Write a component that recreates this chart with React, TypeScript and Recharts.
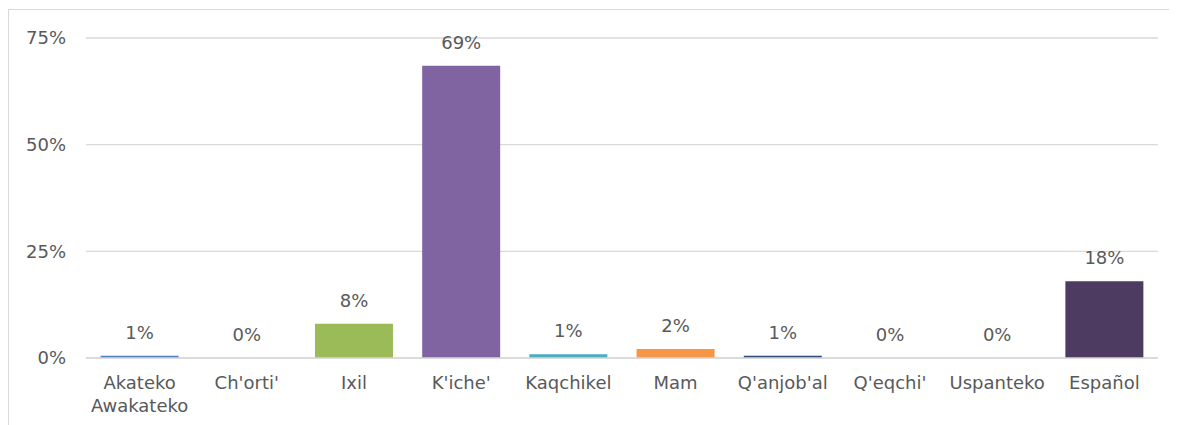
import React from 'react';
import { ComposedChart, Bar, Line, XAxis, YAxis, CartesianGrid, Cell, LabelList } from 'recharts';

const categories = ['Akateko Awakateko', "Ch'orti'", 'Ixil', "K'iche'", 'Kaqchikel', 'Mam', "Q'anjob'al", "Q'eqchi'", 'Uspanteko', 'Español'];
const values = [0.005, 0, 0.08, 0.685, 0.009, 0.021, 0.005, 0, 0, 0.18];
const labels = ['1%', '0%', '8%', '69%', '1%', '2%', '1%', '0%', '0%', '18%'];
const colors = ['#4F81BD', '#C0504D', '#9BBB59', '#8064A2', '#4BACC6', '#F79646', '#2C4D75', '#772C2A', '#5F7530', '#4D3B62'];
const yTicks = [0, 0.25, 0.5, 0.75];

const data = categories.map((c, i) => ({ name: c, value: values[i], label: labels[i] }));

const FONT = 'DejaVu Sans';
const TEXT = '#595959';

const XTick = (props: any) => {
  const { x, y, payload } = props;
  const words = payload.value === 'Akateko Awakateko' ? ['Akateko', 'Awakateko'] : [payload.value];
  return (
    <text x={x} y={y} textAnchor="middle" fill={TEXT} fontFamily={FONT} fontSize={18}>
      {words.map((w: string, i: number) => (
        <tspan key={i} x={x} y={y + 31 + i * 23}>{w}</tspan>
      ))}
    </text>
  );
};

export default function App() {
  return (
    <div style={{ position: 'relative', width: 1169, height: 416, marginTop: 1, borderTop: '1px solid #d9d9d9', borderLeft: '1px solid #d9d9d9', overflow: 'hidden' }}>
      <ComposedChart width={1168} height={415} data={data} margin={{ top: 28, right: 19, bottom: 27, left: 0 }} barCategoryGap="13.6%">
        <CartesianGrid vertical={false} stroke="#d9d9d9" strokeWidth={1.3} />
        <XAxis dataKey="name" axisLine={{ stroke: '#d9d9d9', strokeWidth: 1.3 }} tickLine={false} tickSize={0} tickMargin={0} height={40} interval={0} tick={<XTick />} />
        <YAxis domain={[0, 0.75]} ticks={yTicks} width={77} axisLine={false} tickLine={false} tickSize={0} tickMargin={20}
          tickFormatter={(v: number) => `${Math.round(v * 100)}%`}
          tick={{ fill: TEXT, fontFamily: FONT, fontSize: 18 }} />
        <Bar dataKey="value" isAnimationActive={false}>
          {data.map((d, i) => <Cell key={i} fill={colors[i]} />)}
        </Bar>
        <Line dataKey="value" stroke="none" dot={false} activeDot={false} legendType="none" isAnimationActive={false}>
          <LabelList dataKey="label" position="top" offset={17} fill={TEXT} fontFamily={FONT} fontSize={18} />
        </Line>
      </ComposedChart>
    </div>
  );
}
